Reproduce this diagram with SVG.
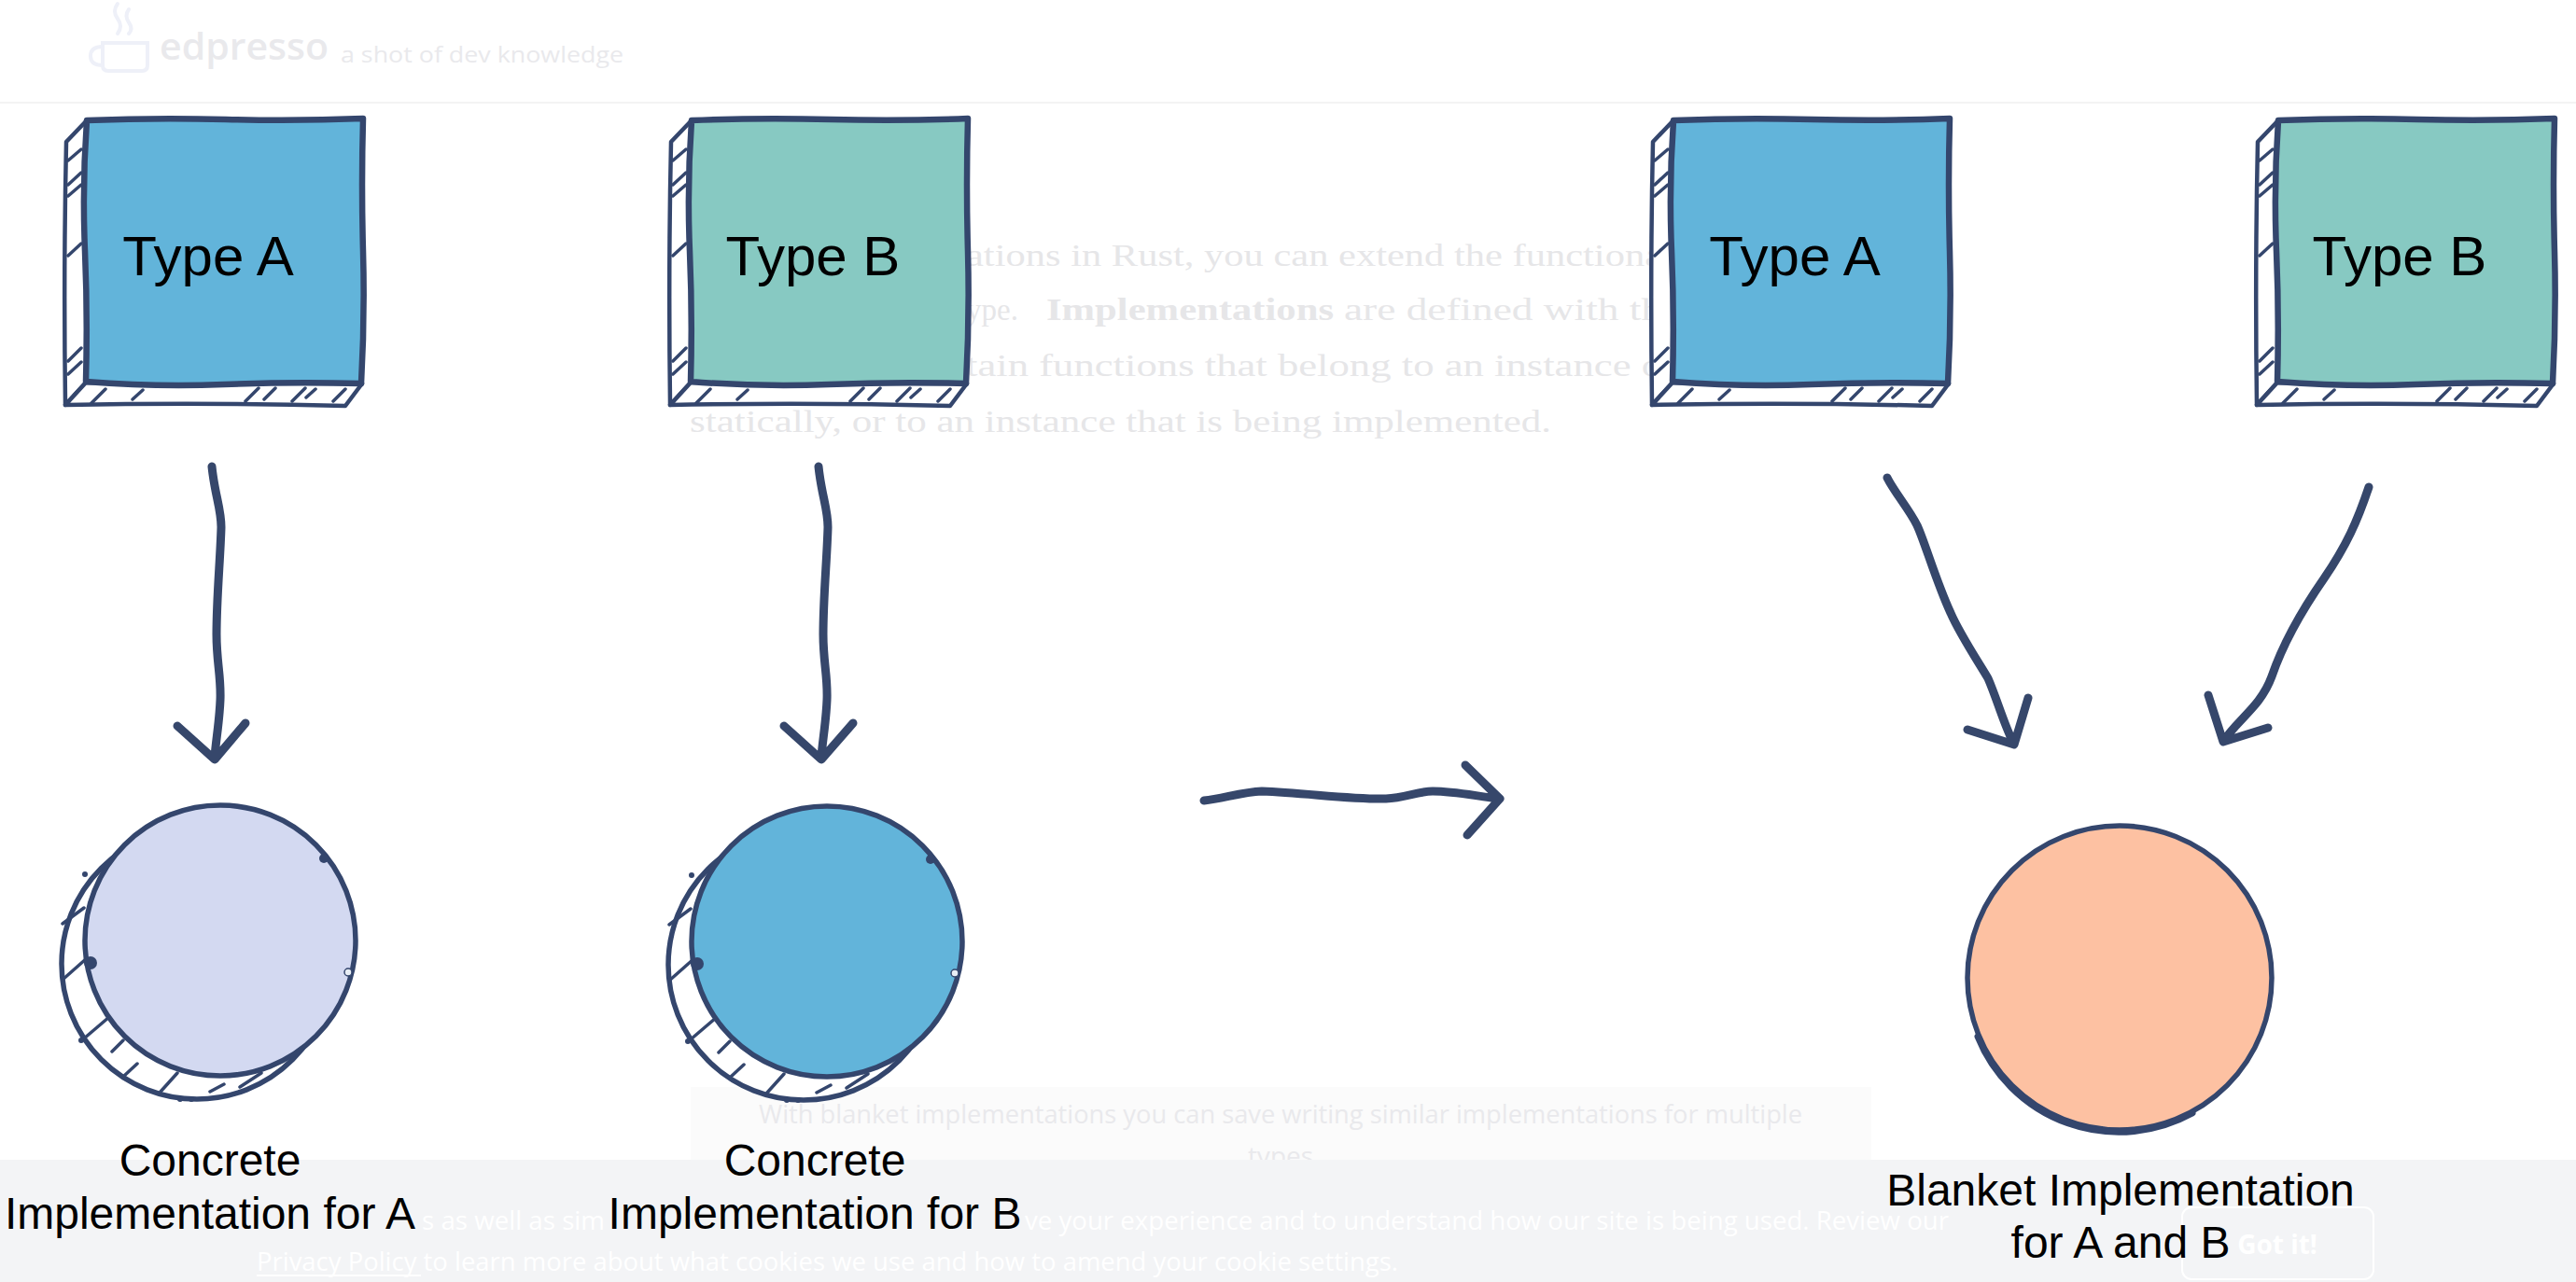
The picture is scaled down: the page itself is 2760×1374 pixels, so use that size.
<svg xmlns="http://www.w3.org/2000/svg" xmlns:xlink="http://www.w3.org/1999/xlink" width="2760" height="1374" viewBox="0 0 2760 1374">
  <defs>
    <style>
      .ln{fill:none;stroke:#34466d;stroke-linecap:round;stroke-linejoin:round}
      .hatch{stroke-width:3.5}
      .face{fill:#fff;stroke:#34466d;stroke-width:4.5;stroke-linejoin:round}
      .edge{stroke:#34466d;stroke-width:6.5;stroke-linejoin:round}
      .ring{stroke:#34466d;stroke-width:5.5}
      .arrow{fill:none;stroke:#36476b;stroke-width:9;stroke-linecap:round;stroke-linejoin:round}
      .lbl{font-family:"Liberation Sans",Arial,Helvetica,sans-serif;fill:#000;text-anchor:middle}
      .type{font-size:60px}
      .cap{font-size:48px}
      .bg-serif{font-family:"Liberation Serif","DejaVu Serif",serif;font-size:34px;fill:#e6e6e8}
      .bg-sans{font-family:"Open Sans","Noto Sans",sans-serif;fill:#e9e9ec}
      .cookie{font-family:"Open Sans","Noto Sans",sans-serif;font-size:28px;fill:#ffffff}
    </style>
    <!-- box: main square 296x282 with hatched 3D shadow, origin at main top-left -->
    <g id="boxShadow">
      <path class="face" d="M1,1 L-21,24 Q-24,160 -22,306 L0,282 Z"/>
      <path class="face" d="M0,282 L-22,306 Q130,303 278,307 L296,283 Z"/>
      <path class="ln hatch" d="M-19,44 l14,-12 M-19,70 l14,-13 M-19,82 l14,-12 M-19,146 l14,-13 M-19,259 l14,-14 M-19,273 l14,-13 M6,304 l15,-15 M50,300 l11,-10 M171,302 l14,-14 M191,300 l12,-12 M221,302 l14,-14 M236,298 l10,-9 M265,302 l13,-13"/>
    </g>
    <path id="boxMain" class="edge" d="M1,1 Q75,-2 150,0 T297,-1 Q295,70 297,141 T295,283 Q220,281 148,284 T0,281 Q2,211 -1,141 T1,1 Z"/>
    <!-- cylinder-like circle shadow, origin at main circle centre -->
    <g id="cylShadow">
      <circle cx="-25" cy="25" r="145" fill="#fff" class="ring"/>
      <path class="ln hatch" d="M-169,42 L-143,19 M-169,-18 L-146,-35 M-146,105 L-119,82 M-116,119 L-104,107 M-103,145 L-89,132 M-64,162 L-46,142 M-11,162 L4,154 M21,157 L44,142"/>
    </g>
    <g id="cylDots">
      <circle cx="-139" cy="24" r="7" fill="#34466d"/>
      <circle cx="111" cy="-88" r="5" fill="#34466d"/>
      <circle cx="137" cy="34" r="4" fill="#e8eef5" stroke="#34466d" stroke-width="1.5"/>
      <circle cx="-145" cy="-71" r="3" fill="#34466d"/>
      <circle cx="-149" cy="107" r="3" fill="#34466d"/>
      <circle cx="-43" cy="170" r="3" fill="#34466d"/>
      <circle cx="-31" cy="170" r="3" fill="#34466d"/>
    </g>
  </defs>

  <rect width="2760" height="1374" fill="#ffffff"/>

  <!-- faint page content behind the diagram -->
  <g id="backdrop">
    <g fill="none" stroke="#eef0f8" stroke-width="4" stroke-linecap="round">
      <path d="M110,46 L158,46 L158,70 Q158,76 152,76 L116,76 Q110,76 110,70 Z"/>
      <path d="M110,50 Q97,50 97,60 Q97,70 110,70"/>
      <path d="M126,4 Q120,12 126,20 Q132,28 126,36"/>
      <path d="M138,10 Q133,17 138,24 Q143,31 138,36"/>
    </g>
    <text x="171" y="64" class="bg-sans" font-size="40" font-weight="600" textLength="181" lengthAdjust="spacingAndGlyphs" fill="#eef0f8">edpresso</text>
    <text x="365" y="67" class="bg-sans" font-size="24" textLength="303" lengthAdjust="spacingAndGlyphs" fill="#eef0f8">a shot of dev knowledge</text>
    <line x1="0" y1="110" x2="2760" y2="110" stroke="#f3f3f3" stroke-width="2"/>

    <text x="1035" y="285" class="bg-serif" textLength="746" lengthAdjust="spacingAndGlyphs">ations in Rust, you can extend the functiona</text>
    <text x="1035" y="343" class="bg-serif"><tspan textLength="56" lengthAdjust="spacingAndGlyphs">ype.</tspan><tspan x="1121" font-weight="bold" textLength="308" lengthAdjust="spacingAndGlyphs">Implementations</tspan><tspan x="1440" textLength="341" lengthAdjust="spacingAndGlyphs">are defined with th</tspan></text>
    <text x="1035" y="403" class="bg-serif" textLength="746" lengthAdjust="spacingAndGlyphs">tain functions that belong to an instance o</text>
    <text x="739" y="463" class="bg-serif" textLength="923" lengthAdjust="spacingAndGlyphs">statically, or to an instance that is being implemented.</text>

    <rect x="740" y="1165" width="1265" height="80" fill="#fbfbfb"/>
    <text x="813" y="1204" class="bg-sans" font-size="28" textLength="1118" lengthAdjust="spacingAndGlyphs">With blanket implementations you can save writing similar implementations for multiple</text>
    <text x="1372" y="1249" class="bg-sans" font-size="28" text-anchor="middle">types</text>

    <rect x="0" y="1243" width="2760" height="131" fill="#f3f4f6"/>
    <text x="452" y="1318" class="cookie" textLength="196" lengthAdjust="spacingAndGlyphs">s as well as sim</text>
    <text x="1098" y="1318" class="cookie" textLength="990" lengthAdjust="spacingAndGlyphs">ve your experience and to understand how our site is being used. Review our</text>
    <text x="275" y="1362" class="cookie" textLength="1223" lengthAdjust="spacingAndGlyphs">Privacy Policy to learn more about what cookies we use and how to amend your cookie settings.</text>
    <line x1="275" y1="1367" x2="451" y2="1367" stroke="#ffffff" stroke-width="2"/>
    <rect x="2338" y="1294" width="205" height="77" rx="10" fill="none" stroke="#ffffff" stroke-width="2"/>
    <text x="2440" y="1344" class="cookie" font-size="32" font-weight="bold" text-anchor="middle">Got it!</text>
  </g>

  <!-- nodes -->
  <g id="typeA-left" transform="translate(92,128)">
    <use xlink:href="#boxShadow"/>
    <use xlink:href="#boxMain" fill="#62b4da"/>
    <text x="131" y="167" class="lbl type">Type A</text>
  </g>
  <g id="typeB-left" transform="translate(740,128)">
    <use xlink:href="#boxShadow"/>
    <use xlink:href="#boxMain" fill="#87c9c2"/>
    <text x="131" y="167" class="lbl type">Type B</text>
  </g>
  <g id="typeA-right" transform="translate(1792,128)">
    <use xlink:href="#boxShadow"/>
    <use xlink:href="#boxMain" fill="#62b4da"/>
    <text x="131" y="167" class="lbl type">Type A</text>
  </g>
  <g id="typeB-right" transform="translate(2440,128)">
    <use xlink:href="#boxShadow"/>
    <use xlink:href="#boxMain" fill="#87c9c2"/>
    <text x="131" y="167" class="lbl type">Type B</text>
  </g>

  <g id="concrete-A" transform="translate(236,1008)">
    <use xlink:href="#cylShadow"/>
    <circle r="145" fill="#d3d9f1" class="ring"/>
    <use xlink:href="#cylDots"/>
    <text x="-11" y="252" class="lbl cap">Concrete</text>
    <text x="-11" y="309" class="lbl cap">Implementation for A</text>
  </g>
  <g id="concrete-B" transform="translate(886,1009)">
    <use xlink:href="#cylShadow"/>
    <circle r="145" fill="#62b4da" class="ring"/>
    <use xlink:href="#cylDots"/>
    <text x="-13" y="251" class="lbl cap">Concrete</text>
    <text x="-13" y="308" class="lbl cap">Implementation for B</text>
  </g>
  <g id="blanket-AB" transform="translate(2271,1048)">
    <circle r="163" fill="#fdc1a2" class="ring"/>
    <path d="M-150,60 A163,163 0 0 0 80,142" fill="none" stroke="#34466d" stroke-width="7" stroke-linecap="round" transform="translate(-2,3)"/>
    <text x="1" y="244" class="lbl cap">Blanket Implementation</text>
    <text x="1" y="300" class="lbl cap">for A and B</text>
  </g>

  <!-- connectors -->
  <g id="connectors" class="arrow">
    <path d="M227,500 C230,530 237,545 237,565 C236,600 232,640 232,680 C232,710 237,725 236,750 C235,775 231,795 230,812 M190,778 L230,814 L263,775"/>
    <path d="M877,500 C880,530 887,545 887,565 C886,600 882,640 882,680 C882,710 887,725 886,750 C885,775 881,795 880,812 M840,778 L880,814 L914,775"/>
    <path d="M1290,858 C1310,856 1330,849 1352,848 C1400,850 1450,857 1485,856 C1505,855 1520,848 1535,848 C1560,848 1585,854 1607,856 M1570,820 L1607,856 L1572,895"/>
    <path d="M2022,512 C2030,528 2045,545 2054,563 C2062,580 2075,625 2090,657 C2100,680 2120,710 2130,727 C2140,750 2150,785 2158,797 M2108,782 L2158,798 L2173,748"/>
    <path d="M2538,522 C2526,558 2514,585 2490,620 C2465,656 2446,690 2434,725 C2422,758 2396,772 2382,795 M2366,745 L2382,795 L2430,780"/>
  </g>
</svg>
